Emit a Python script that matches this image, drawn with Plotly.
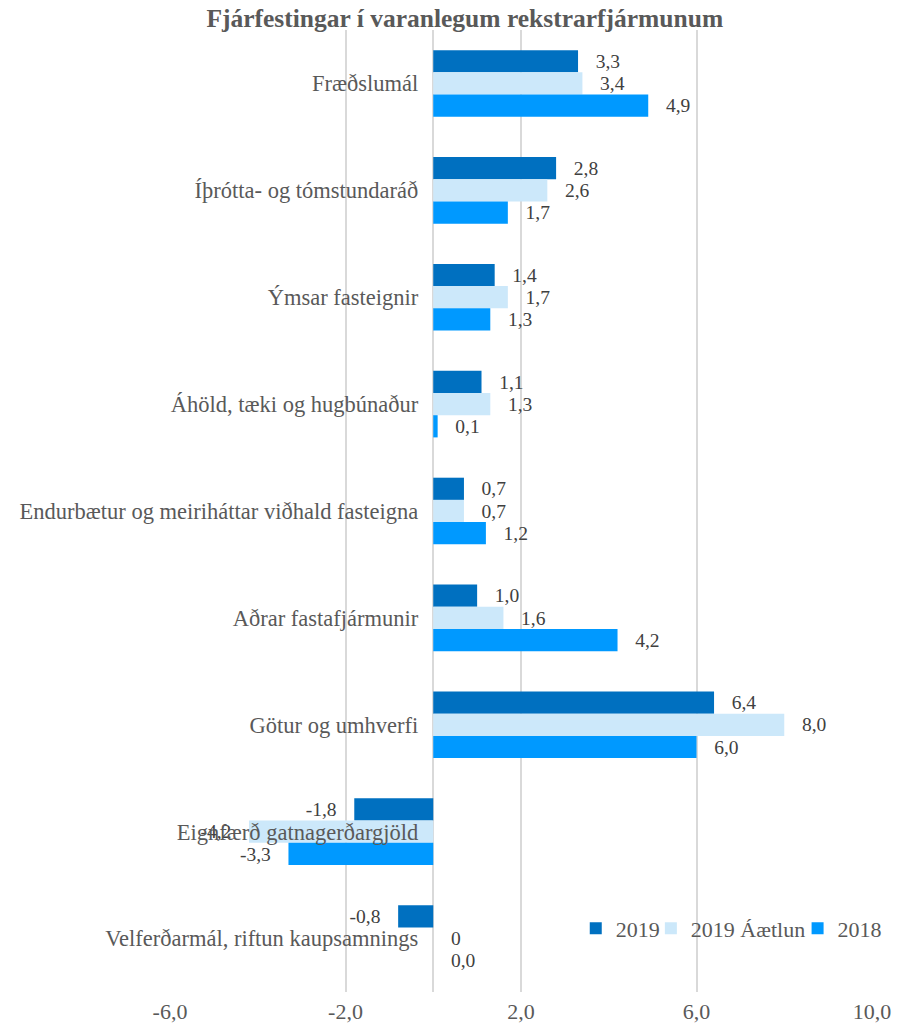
import plotly.graph_objects as go

categories = [
    "Fræðslumál",
    "Íþrótta- og tómstundaráð",
    "Ýmsar fasteignir",
    "Áhöld, tæki og hugbúnaður",
    "Endurbætur og meiriháttar viðhald fasteigna",
    "Aðrar fastafjármunir",
    "Götur og umhverfi",
    "Eignfærð gatnagerðargjöld",
    "Velferðarmál, riftun kaupsamnings",
]
series_names = ["2019", "2019 Áætlun", "2018"]
values_2019 = [3.3, 2.8, 1.4, 1.1, 0.7, 1.0, 6.4, -1.8, -0.8]
values_2019_plan = [3.4, 2.6, 1.7, 1.3, 0.7, 1.6, 8.0, -4.2, 0]
values_2018 = [4.9, 1.7, 1.3, 0.1, 1.2, 4.2, 6.0, -3.3, 0.0]
tick_vals = [-6, -2, 2, 6, 10]
colors = ["#0070C0", "#CCE8FA", "#0099FF"]

PAD = "\u00a0\u00a0\u00a0"


def fmt(v):
    if isinstance(v, int):
        return str(v)
    return f"{v:.1f}".replace(".", ",")


def bar_label(v):
    s = fmt(v)
    return s + PAD if v < 0 else PAD + s


FONT = "Liberation Serif"
GRAY = "#595959"
legend_ids = ["legend", "legend2", "legend3"]
legend_x = [0.578, 0.685, 0.894]

fig = go.Figure()
for name, vals, col, lid in zip(series_names, [values_2019, values_2019_plan, values_2018],
                                colors, legend_ids):
    fig.add_trace(go.Bar(
        y=categories, x=vals, name=name, orientation="h",
        marker=dict(color=col, line=dict(width=0)),
        text=[bar_label(v) for v in vals], textposition="outside",
        textfont=dict(family=FONT, size=22, color="#404040"),
        cliponaxis=False, legend=lid, showlegend=True,
    ))

legend_common = dict(orientation="h", xanchor="left", y=0.066, yanchor="middle",
                     bgcolor="rgba(0,0,0,0)", borderwidth=0, visible=True,
                     font=dict(family=FONT, size=22, color=GRAY), itemwidth=30)

fig.update_layout(
    width=899, height=1026,
    margin=dict(l=170, r=21, t=30, b=34),
    showlegend=True,
    barmode="group", bargap=0.377, bargroupgap=0,
    plot_bgcolor="white", paper_bgcolor="white",
    title=dict(text="<b>Fjárfestingar í varanlegum rekstrarfjármunum</b>",
               x=0.517, xanchor="center", y=0.982, yanchor="middle",
               font=dict(family=FONT, size=25.5, color=GRAY)),
    font=dict(family=FONT, size=22, color=GRAY),
    legend=dict(x=legend_x[0], **legend_common),
    legend2=dict(x=legend_x[1], **legend_common),
    legend3=dict(x=legend_x[2], **legend_common),
)
fig.update_xaxes(range=[-6, 10], tickvals=tick_vals,
                 ticktext=[fmt(float(t)) for t in tick_vals],
                 showgrid=True, gridcolor="#D9D9D9", gridwidth=1.5,
                 zeroline=True, zerolinecolor="#D9D9D9", zerolinewidth=1.5,
                 showline=False, ticks="", automargin=False, ticklabelstandoff=4,
                 tickfont=dict(family=FONT, size=22, color=GRAY))
fig.update_yaxes(autorange="reversed", anchor="free", position=6/16,
                 showgrid=False, showline=False, ticks="", ticklabelstandoff=15,
                 automargin=False, layer="above traces",
                 tickfont=dict(family=FONT, size=22.5, color=GRAY))

fig.write_html("out.html", config={"displayModeBar": False},
               post_script="document.body.style.margin='0';")
